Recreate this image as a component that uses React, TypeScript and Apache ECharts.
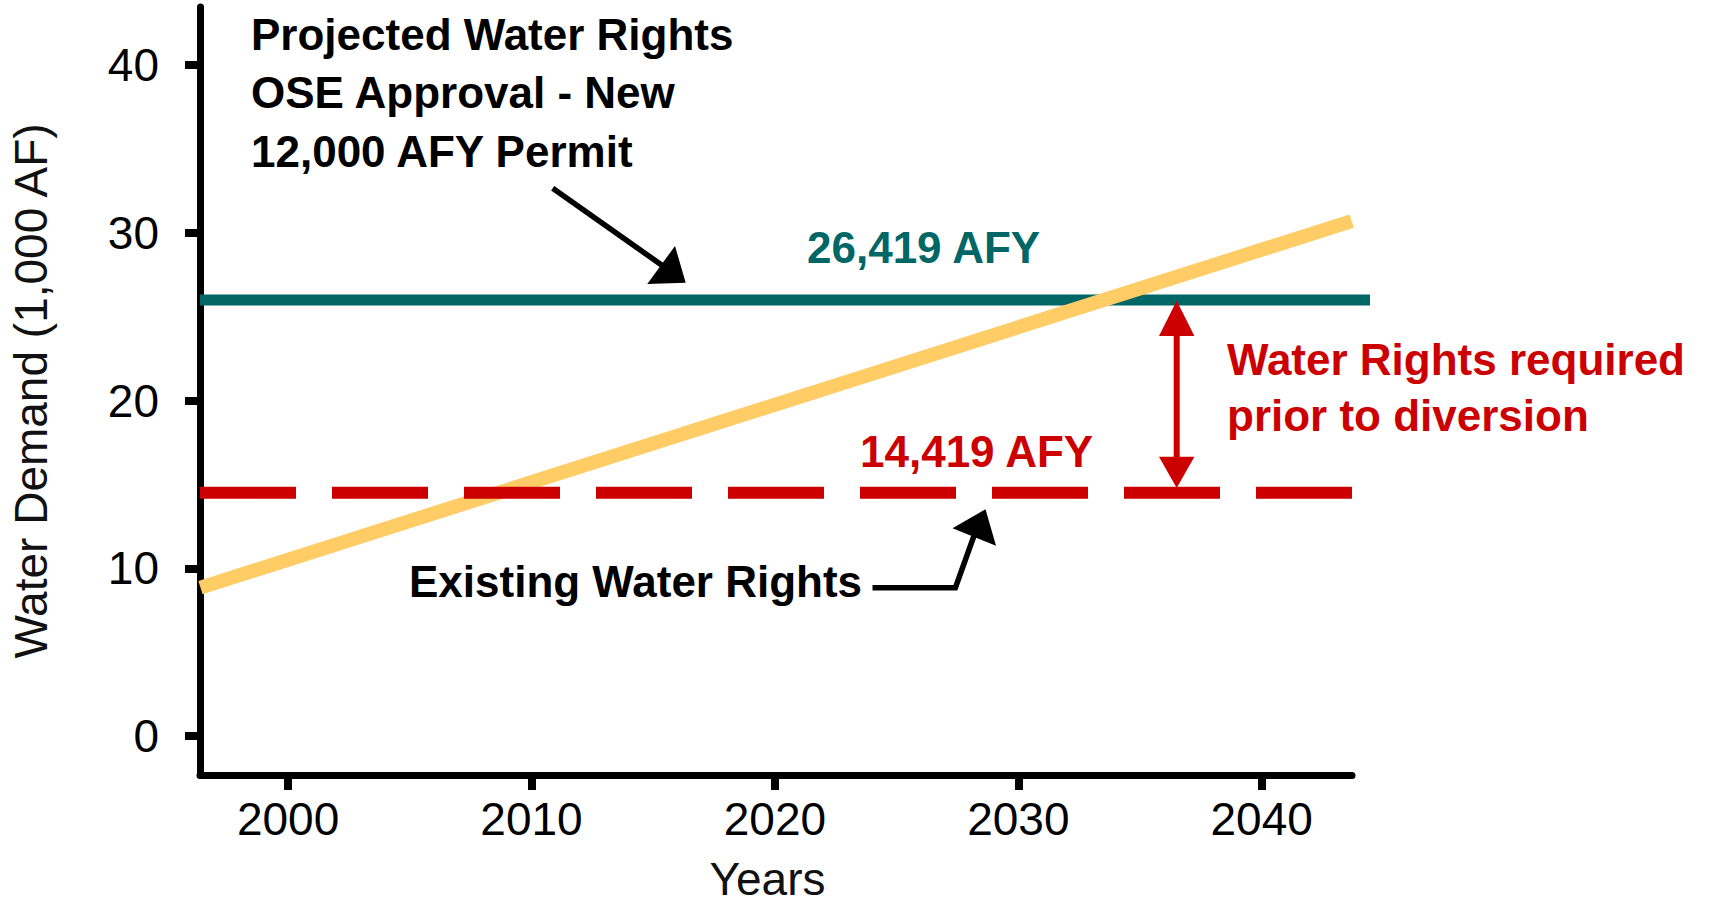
import React, { useEffect, useRef } from "react";
import * as echarts from "echarts";

// ---- data ----
const yearTicks = [2000, 2010, 2020, 2030, 2040];
const demandTicks = [0, 10, 20, 30, 40];
const xRange = [1996.38, 2043.71];
const yRange = [-2.32, 43.46];

// Projected water demand (thousand AF), straight trend
const demandYears = [1996.4, 2043.7];
const demandValues = [8.85, 30.7];

// Projected water rights (after new 12,000 AFY permit) – line runs a bit past the axis end
const projectedRightsYears = [1996.38, 2044.45];
const projectedRightsValue = 26.0;

// Existing water rights
const existingRightsYears = [1996.38, 2043.71];
const existingRightsValue = 14.5;

const FONT = '"Liberation Sans", Arial, sans-serif';
const TEAL = "#006666";
const RED = "#CC0000";
const YELLOW = "#FFCC66";

export default function App() {
  const ref = useRef<HTMLDivElement>(null);

  useEffect(() => {
    if (!ref.current) return;
    const chart = echarts.init(ref.current, null, { renderer: "svg" });

    const boldText = (text: string, x: number, y: number, fill: string) => ({
      type: "text",
      z: 100,
      style: {
        text,
        x,
        y,
        fill,
        fontSize: 44,
        fontWeight: "bold",
        fontFamily: FONT,
        align: "left",
        verticalAlign: "middle",
      },
    });

    // px per year of main grid, used to extend the hidden overlay axis
    const plotW = 1709 - 200 - 357;
    const pxPerYear = plotW / (xRange[1] - xRange[0]);
    const overlayRight = 1709 - 200 - (projectedRightsYears[1] - xRange[0]) * pxPerYear;

    const option: any = {
      animation: false,
      backgroundColor: "#ffffff",
      grid: [
        {
          left: 200,
          right: 357,
          top: 7,
          bottom: 131,
          containLabel: false,
          outerBoundsMode: "none",
        },
        {
          left: 200,
          right: overlayRight,
          top: 7,
          bottom: 131,
          containLabel: false,
          outerBoundsMode: "none",
        },
      ],
      xAxis: [
        {
          type: "value",
          gridIndex: 0,
          min: xRange[0],
          max: xRange[1],
          name: "Years",
          nameLocation: "middle",
          nameGap: 84,
          nameTextStyle: {
            fontSize: 46,
            lineHeight: 40,
            fontFamily: FONT,
            color: "#111",
            padding: [0, 17, 0, 0],
          },
          axisLine: { show: true, onZero: false, lineStyle: { color: "#000", width: 7 } },
          axisTick: {
            show: true,
            customValues: yearTicks,
            length: 15,
            lineStyle: { color: "#000", width: 8 },
          },
          axisLabel: {
            customValues: yearTicks,
            formatter: (v: number) => String(Math.round(v)),
            fontSize: 46,
            fontFamily: FONT,
            color: "#000",
            margin: 21,
          },
          splitLine: { show: false },
        },
        {
          type: "value",
          gridIndex: 1,
          min: projectedRightsYears[0],
          max: projectedRightsYears[1],
          show: false,
        },
      ],
      yAxis: [
        {
          type: "value",
          gridIndex: 0,
          min: yRange[0],
          max: yRange[1],
          name: "Water Demand (1,000 AF)",
          nameLocation: "middle",
          nameGap: 146,
          nameTextStyle: { fontSize: 46, fontFamily: FONT, color: "#111" },
          axisLine: { show: true, onZero: false, lineStyle: { color: "#000", width: 7 } },
          axisTick: {
            show: true,
            customValues: demandTicks,
            length: 15,
            lineStyle: { color: "#000", width: 8 },
          },
          axisLabel: {
            customValues: demandTicks,
            formatter: (v: number) => String(Math.round(v)),
            fontSize: 46,
            fontFamily: FONT,
            color: "#000",
            margin: 41,
          },
          splitLine: { show: false },
        },
        {
          type: "value",
          gridIndex: 1,
          min: yRange[0],
          max: yRange[1],
          show: false,
        },
      ],
      series: [
        {
          name: "Projected Water Rights",
          type: "line",
          xAxisIndex: 1,
          yAxisIndex: 1,
          z: 2,
          clip: false,
          symbol: "none",
          silent: true,
          data: projectedRightsYears.map((x) => [x, projectedRightsValue]),
          lineStyle: { color: TEAL, width: 11, cap: "butt" },
        },
        {
          name: "Water Demand",
          type: "line",
          z: 3,
          clip: false,
          symbol: "none",
          silent: true,
          data: demandYears.map((x, i) => [x, demandValues[i]]),
          lineStyle: { color: YELLOW, width: 14, cap: "butt" },
        },
        {
          name: "Existing Water Rights",
          type: "line",
          z: 4,
          clip: false,
          symbol: "none",
          silent: true,
          data: existingRightsYears.map((x) => [x, existingRightsValue]),
          lineStyle: { color: RED, width: 12, type: [96, 36], dashOffset: 0, cap: "butt" },
        },
      ],
      graphic: [
        boldText("Projected Water Rights", 251, 34.5, "#000"),
        boldText("OSE Approval - New", 251, 92.5, "#000"),
        boldText("12,000 AFY Permit", 251, 151, "#000"),
        boldText("26,419 AFY", 807, 247.5, TEAL),
        boldText("14,419 AFY", 860, 451, RED),
        boldText("Water Rights required", 1227, 359, RED),
        boldText("prior to diversion", 1227, 415, RED),
        boldText("Existing Water Rights", 409, 581, "#000"),
        // arrow to projected rights
        {
          type: "line",
          z: 100,
          shape: { x1: 552.7, y1: 188.3, x2: 663, y2: 266 },
          style: { stroke: "#000", lineWidth: 5.5 },
        },
        {
          type: "polygon",
          z: 100,
          shape: { points: [[675, 246], [647.3, 284], [685.7, 282.7]] },
          style: { fill: "#000" },
        },
        // arrow to existing rights
        {
          type: "polyline",
          z: 100,
          shape: { points: [[872.5, 587.7], [955.4, 587.7], [975, 533]] },
          style: { stroke: "#000", lineWidth: 5.5, fill: null },
        },
        {
          type: "polygon",
          z: 100,
          shape: { points: [[952.5, 528.3], [985.5, 509.3], [996, 545.7]] },
          style: { fill: "#000" },
        },
        // red double arrow
        {
          type: "line",
          z: 100,
          shape: { x1: 1176.7, y1: 334, x2: 1176.7, y2: 458 },
          style: { stroke: RED, lineWidth: 6 },
        },
        {
          type: "polygon",
          z: 100,
          shape: { points: [[1176.7, 300.7], [1159, 336], [1194.4, 336]] },
          style: { fill: RED },
        },
        {
          type: "polygon",
          z: 100,
          shape: { points: [[1159, 456.7], [1194.4, 456.7], [1176.7, 488]] },
          style: { fill: RED },
        },
      ],
    };

    chart.setOption(option);
    return () => chart.dispose();
  }, []);

  return (
    <div
      ref={ref}
      style={{
        position: "fixed",
        left: 0,
        top: 0,
        width: 1709,
        height: 906,
        background: "#fff",
      }}
    />
  );
}
